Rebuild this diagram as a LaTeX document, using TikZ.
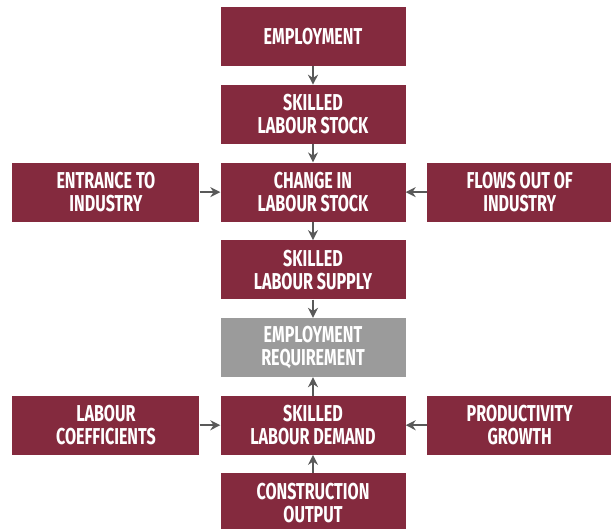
\documentclass[tikz,border=0pt]{standalone}
\usepackage{fontspec}
\setmainfont{Fira Sans}[FakeStretch=0.70]
\usetikzlibrary{positioning,arrows.meta}

\definecolor{maroon}{HTML}{842A3E}
\definecolor{reqgray}{HTML}{9B9B9B}
\definecolor{arrowgray}{HTML}{595959}

\tikzset{
    box/.style={rectangle, fill=maroon, text=white, align=center,
        minimum width=185pt, minimum height=59pt, inner sep=0pt,
        font=\fontsize{23}{23}\selectfont\bfseries},
    graybox/.style={box, fill=reqgray},
    arr/.style={-{Stealth[length=10pt,width=10pt]}, line width=1.5pt, draw=arrowgray}
}

\begin{document}
\begin{tikzpicture}
        \useasboundingbox (0,0) rectangle (611pt,-528pt);

        % Nodes
        \node (employment) [box] at (313pt,-36.7pt) {EMPLOYMENT};
        \node (stock) [box, below=18.3pt of employment] {SKILLED\\LABOUR STOCK};
        \node (change) [box, below=18.3pt of stock] {CHANGE IN\\LABOUR STOCK};
        \node (entrance) [box, minimum width=187pt, left=20.7pt of change] {ENTRANCE TO\\INDUSTRY};
        \node (flows) [box, right=21.3pt of change] {FLOWS OUT OF\\INDUSTRY};
        \node (supply) [box, below=18.3pt of change] {SKILLED\\LABOUR SUPPLY};
        \node (requirement) [graybox, below=18.3pt of supply] {EMPLOYMENT\\REQUIREMENT};
        \node (demand) [box, below=18.3pt of requirement] {SKILLED\\LABOUR DEMAND};
        \node (coefficients) [box, minimum width=187pt, left=20.7pt of demand] {LABOUR\\COEFFICIENTS};
        \node (productivity) [box, right=21.3pt of demand] {PRODUCTIVITY\\GROWTH};
        \node (output) [box, below=18.3pt of demand] {CONSTRUCTION\\OUTPUT};

        % Arrows
        \draw [arr] (employment) -- (stock);
        \draw [arr] (stock) -- (change);
        \draw [arr] (entrance) -- (change);
        \draw [arr] (flows) -- (change);
        \draw [arr] (change) -- (supply);
        \draw [arr] (supply) -- (requirement);
        \draw [arr] (demand) -- (requirement);
        \draw [arr] (coefficients) -- (demand);
        \draw [arr] (productivity) -- (demand);
        \draw [arr] (output) -- (demand);

    \end{tikzpicture}
\end{document}
